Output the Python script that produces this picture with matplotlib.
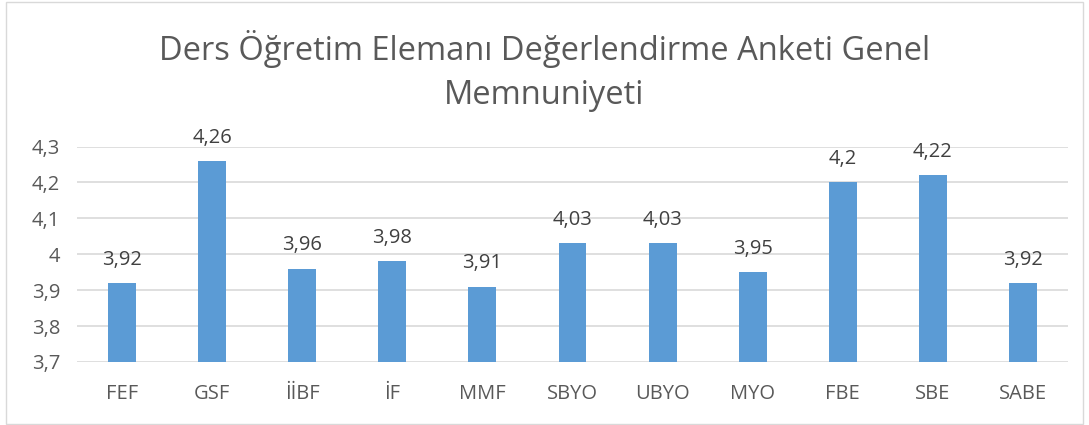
import matplotlib
matplotlib.use("Agg")
import matplotlib.pyplot as plt
from matplotlib.patches import Rectangle

categories = ["FEF", "GSF", "İİBF", "İF", "MMF", "SBYO", "UBYO", "MYO", "FBE", "SBE", "SABE"]
values = [3.92, 4.26, 3.96, 3.98, 3.91, 4.03, 4.03, 3.95, 4.2, 4.22, 3.92]
yticks = [3.7, 3.8, 3.9, 4.0, 4.1, 4.2, 4.3]
title = "Ders Öğretim Elemanı Değerlendirme Anketi Genel\nMemnuniyeti"

plt.rcParams['font.family'] = ['Open Sans', 'DejaVu Sans']


def tr_num(v):
    s = ("%.2f" % v).rstrip("0").rstrip(".")
    return s.replace(".", ",")


fig = plt.figure(figsize=(10.89, 4.25), dpi=100)
ax = fig.add_axes([77 / 1089, 1 - 362 / 425, (1068 - 77) / 1089, (362 - 146.5) / 425])

x = list(range(len(categories)))
bars = ax.bar(x, values, width=0.31, color="#5B9BD5", zorder=3, bottom=0)
ax.set_ylim(3.7, 4.3)
ax.set_xlim(-0.5, len(categories) - 0.5)
ax.set_yticks(yticks)
ax.set_yticklabels([tr_num(t) for t in yticks])
ax.set_xticks(x)
ax.set_xticklabels(categories)
ax.tick_params(axis="both", length=0, labelsize=14.5, colors="#595959")
ax.tick_params(axis="x", pad=16)
ax.tick_params(axis="y", pad=12)
ax.grid(axis="y", color="#D9D9D9", linewidth=1.2, zorder=0)
for s in ax.spines.values():
    s.set_visible(False)

# value labels above bars
for xi, v in zip(x, values):
    ax.annotate(tr_num(v), (xi, v), xytext=(0, 9.5), textcoords="offset points",
                ha="center", va="bottom", fontsize=14.5, color="#404040")

fig.text(0.5, 1 - 71 / 425, title, ha="center", va="center", fontsize=23.5,
         color="#595959", linespacing=1.45)

fig.patches.append(Rectangle((6 / 1089, 1 / 425), 1077 / 1089, 422 / 425,
                             transform=fig.transFigure, fill=False,
                             edgecolor="#D9D9D9", linewidth=1))

fig.savefig("out.png", dpi=100)
